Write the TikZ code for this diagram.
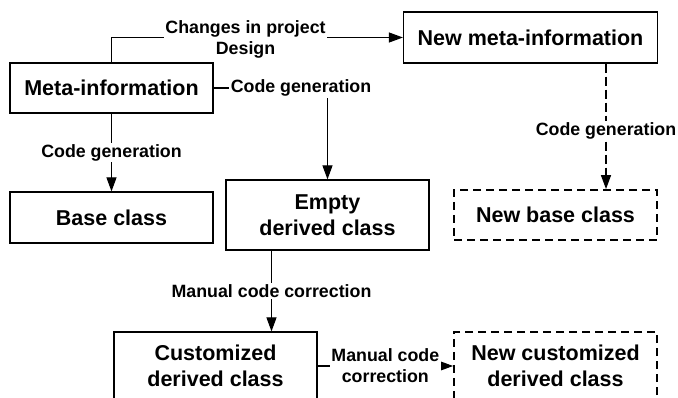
\documentclass[tikz,border=0pt]{standalone}
\usepackage{fontspec}
\setmainfont{Liberation Sans}
\usetikzlibrary{arrows.meta}
\begin{document}
\begin{tikzpicture}[x=1pt,y=-1pt,
  boxfont/.style={font=\fontsize{21.5}{26}\selectfont\bfseries},
  lblfont/.style={font=\fontsize{17.8}{21}\selectfont\bfseries},
  solidbox/.style={draw, line width=1.2pt, boxfont, align=center, inner sep=0pt},
  dashbox/.style={draw, line width=1.8pt, dash pattern=on 8pt off 5pt, boxfont, align=center, inner sep=0pt},
  lbl/.style={fill=white, lblfont, align=center, inner sep=1.5pt},
  arr/.style={line width=1.1pt, -{Triangle[length=14pt,width=10pt]}},
  darr/.style={line width=1.4pt, dash pattern=on 9pt off 4pt, -{Triangle[length=14pt,width=10pt]}}
]
\clip (0,0) rectangle (678,398);
\fill[white] (0,0) rectangle (678,398);

\node[solidbox, minimum width=203pt, minimum height=50pt] (meta) at (111.5,88) {Meta-information};
\node[solidbox, minimum width=254pt, minimum height=51pt] (newmeta) at (530.5,37.5) {New meta-information};
\node[solidbox, minimum width=203pt, minimum height=51pt] (base) at (111.5,217.5) {Base class};
\node[solidbox, minimum width=203pt, minimum height=70pt] (empty) at (327.5,215) {Empty\\derived class};
\node[dashbox, minimum width=203pt, minimum height=50pt] (newbase) at (555.5,215) {New base class};
\node[solidbox, minimum width=203pt, minimum height=68pt] (cust) at (215.5,366) {Customized\\derived class};
\node[dashbox, minimum width=203pt, minimum height=68pt] (newcust) at (555.5,366) {New customized\\derived class};

\coordinate (xm) at (271.5,0);
\coordinate (xn) at (606,0);

% Meta -> New meta
\draw[arr] (meta.north) |- node[lbl, pos=0.73, yshift=-1.5pt] {Changes in project\\Design} (newmeta.west);

% Meta -> Base
\draw[arr] (meta.south) -- node[lbl] {Code generation} (base.north);

% Meta -> Empty derived
\node[lbl] (cg2) at (301,88) {Code generation};
\draw[line width=1.1pt] (meta.east) -- (cg2.west);
\draw[arr] (cg2.south -| empty.north) -- (empty.north);

% New meta -> New base
\draw[darr] (newmeta.south -| xn) -- node[lbl, pos=0.535] {Code generation} (newbase.north -| xn);

% Empty -> Customized
\draw[arr] (empty.south -| xm) -- node[lbl] {Manual code correction} (cust.north -| xm);

% Customized -> New customized
\draw[arr] (cust.east) -- node[lbl] {Manual code\\correction} (newcust.west);
\end{tikzpicture}
\end{document}
